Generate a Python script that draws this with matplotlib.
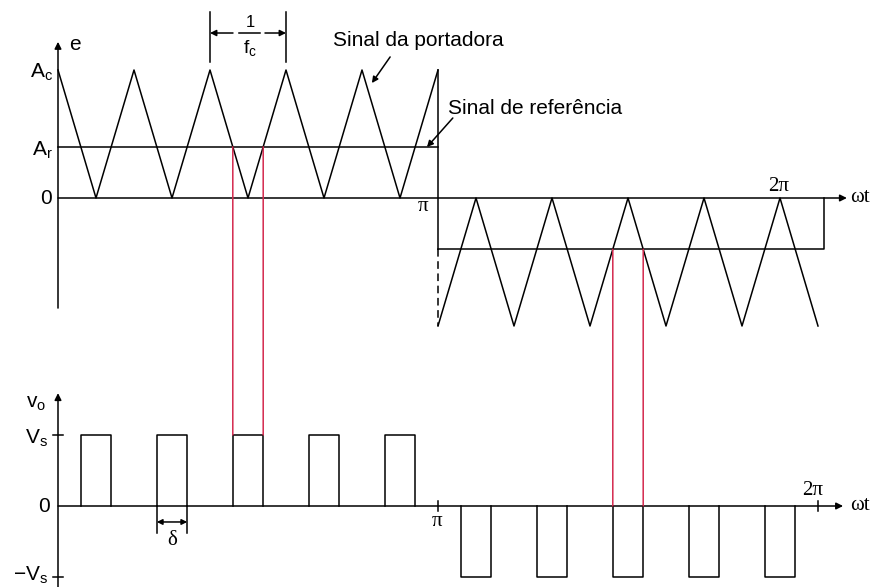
import numpy as np
import matplotlib.pyplot as plt
from matplotlib.patches import ConnectionPatch

plt.rcParams['font.family'] = ['Liberation Sans', 'DejaVu Sans']

# time axis in units of pi (0 .. 2 -> 0 .. 2*pi)
carrier_t_pos = [0.0, 0.1, 0.2, 0.3, 0.4, 0.5, 0.6, 0.7, 0.8, 0.9, 1.0]
carrier_e_pos = [1, 0, 1, 0, 1, 0, 1, 0, 1, 0, 1]
carrier_t_neg = [1.0, 1.1, 1.2, 1.3, 1.4, 1.5, 1.6, 1.7, 1.8, 1.9, 2.0]
carrier_e_neg = [-1, 0, -1, 0, -1, 0, -1, 0, -1, 0, -1]

Ac = 1.0      # carrier amplitude
Ar = 0.4      # reference amplitude
Vs = 1.0      # supply voltage
marked = 2    # pulse that gets the red projection lines

LW = 1.1
RED = '#d42a4e'
SERIF = ['Liberation Serif', 'DejaVu Serif']


def crossings(ts, es, level):
    out = []
    for t0, t1, e0, e1 in zip(ts[:-1], ts[1:], es[:-1], es[1:]):
        if (e0 - level) * (e1 - level) < 0:
            out.append(t0 + (level - e0) / (e1 - e0) * (t1 - t0))
    return out


def arrow(ax, start, end, style='-|>', ms=10):
    ax.annotate('', xy=end, xytext=start,
                arrowprops=dict(arrowstyle=style, lw=LW, color='k',
                                mutation_scale=ms, shrinkA=0, shrinkB=0))


e_pos = [Ac * v for v in carrier_e_pos]
e_neg = [Ac * v for v in carrier_e_neg]
cross_pos = crossings(carrier_t_pos, e_pos, Ar)
cross_neg = crossings(carrier_t_neg, e_neg, -Ar)
pulses_pos = list(zip(cross_pos[0::2], cross_pos[1::2]))
pulses_neg = list(zip(cross_neg[0::2], cross_neg[1::2]))

fig = plt.figure(figsize=(8.72, 5.87), dpi=100)
W, H = 872, 587
xlim = (-58 / 380, (W - 58) / 380)

ax1 = fig.add_axes([0, 1 - 340 / H, 1, 340 / H])
ax1.set_xlim(*xlim)
ax1.set_ylim((198 - 340) / 128, 198 / 128)
ax2 = fig.add_axes([0, 0, 1, 247 / H])
ax2.set_xlim(*xlim)
ax2.set_ylim((506 - H) / 71, (506 - 340) / 71)
for ax in (ax1, ax2):
    ax.axis('off')

# ---- carrier and reference signals ----
arrow(ax1, (0, -0.86), (0, 1.22))
arrow(ax1, (0, 0), (2.076, 0))
ax1.plot(carrier_t_pos, e_pos, color='k', lw=LW)
ax1.plot(carrier_t_neg, e_neg, color='k', lw=LW)
ax1.plot([0, 1], [Ar, Ar], color='k', lw=LW)
ax1.plot([1, 1], [Ac, -Ar], color='k', lw=LW)
ax1.plot([1, 1], [-Ar, -Ac], color='k', lw=LW, ls=(0, (5, 3)))
ax1.plot([1, 2.016, 2.016], [-Ar, -Ar, 0], color='k', lw=LW)

# carrier period dimension
for tt in (0.4, 0.6):
    ax1.plot([tt, tt], [1.0625, 1.453], color='k', lw=LW)
arrow(ax1, (0.4605, 1.289), (0.4, 1.289), ms=9)
arrow(ax1, (0.5447, 1.289), (0.6, 1.289), ms=9)
ax1.plot([0.476, 0.532], [1.289, 1.289], color='k', lw=LW)
ax1.text(0.505, 1.37, '1', ha='center', va='center', fontsize=12)
ax1.text(0.505, 1.17, r'$\mathregular{f_c}$', ha='center', va='center', fontsize=14)

ax1.text(-0.013, 0.984, r'$\mathregular{A_c}$', ha='right', va='center', fontsize=15)
ax1.text(-0.013, 0.375, r'$\mathregular{A_r}$', ha='right', va='center', fontsize=15)
ax1.text(-0.016, 0.0, '0', ha='right', va='center', fontsize=15)
ax1.text(0.045, 1.2, 'e', ha='center', va='center', fontsize=15)
ax1.text(0.961, -0.07, 'π', ha='center', va='center', fontsize=15, family=SERIF)
ax1.text(1.897, 0.09, '2π', ha='center', va='center', fontsize=15, family=SERIF)
ax1.text(2.084, 0.0, 'ωt', ha='left', va='center', fontsize=15, family=SERIF)

ax1.text(0.724, 1.234, 'Sinal da portadora', ha='left', va='center', fontsize=15)
arrow(ax1, (0.874, 1.102), (0.826, 0.898), ms=9)
ax1.text(1.026, 0.703, 'Sinal de referência', ha='left', va='center', fontsize=15)
arrow(ax1, (1.039, 0.625), (0.971, 0.398), ms=9)

# ---- output voltage ----
arrow(ax2, (0, -1.141), (0, 1.59))
arrow(ax2, (0, 0), (2.066, 0))
for v in (Vs, -Vs):
    ax2.plot([-0.013, 0.013], [v, v], color='k', lw=LW)
for tt in (1.0, 2.0):
    ax2.plot([tt, tt], [-0.07, 0.07], color='k', lw=LW)

for t0, t1 in pulses_pos:
    ax2.plot([t0, t0, t1, t1], [0, Vs, Vs, 0], color='k', lw=LW)
for t0, t1 in pulses_neg:
    ax2.plot([t0, t0, t1, t1], [0, -Vs, -Vs, 0], color='k', lw=LW)

# pulse width
d0, d1 = pulses_pos[1]
for tt in (d0, d1):
    ax2.plot([tt, tt], [0, -0.38], color='k', lw=LW)
arrow(ax2, (d0, -0.225), (d1, -0.225), style='<|-|>', ms=8)
ax2.text((d0 + d1) / 2, -0.49, 'δ', ha='center', va='center', fontsize=15, family=SERIF)

ax2.text(-0.058, 1.437, r'$\mathregular{v_o}$', ha='center', va='center', fontsize=15)
ax2.text(-0.026, 0.958, r'$\mathregular{V_s}$', ha='right', va='center', fontsize=15)
ax2.text(-0.021, 0.0, '0', ha='right', va='center', fontsize=15)
ax2.text(-0.026, -0.97, r'$\mathregular{-V_s}$', ha='right', va='center', fontsize=15)
ax2.text(0.997, -0.225, 'π', ha='center', va='center', fontsize=15, family=SERIF)
ax2.text(1.987, 0.225, '2π', ha='center', va='center', fontsize=15, family=SERIF)
ax2.text(2.084, 0.0, 'ωt', ha='left', va='center', fontsize=15, family=SERIF)

# projection of the carrier/reference crossings onto the output pulses
for tt in pulses_pos[marked]:
    fig.add_artist(ConnectionPatch(xyA=(tt, Ar), coordsA=ax1.transData,
                                   xyB=(tt, Vs), coordsB=ax2.transData,
                                   color=RED, lw=LW))
for tt in pulses_neg[marked]:
    fig.add_artist(ConnectionPatch(xyA=(tt, -Ar), coordsA=ax1.transData,
                                   xyB=(tt, 0), coordsB=ax2.transData,
                                   color=RED, lw=LW))

fig.savefig('out.png', dpi=100)
